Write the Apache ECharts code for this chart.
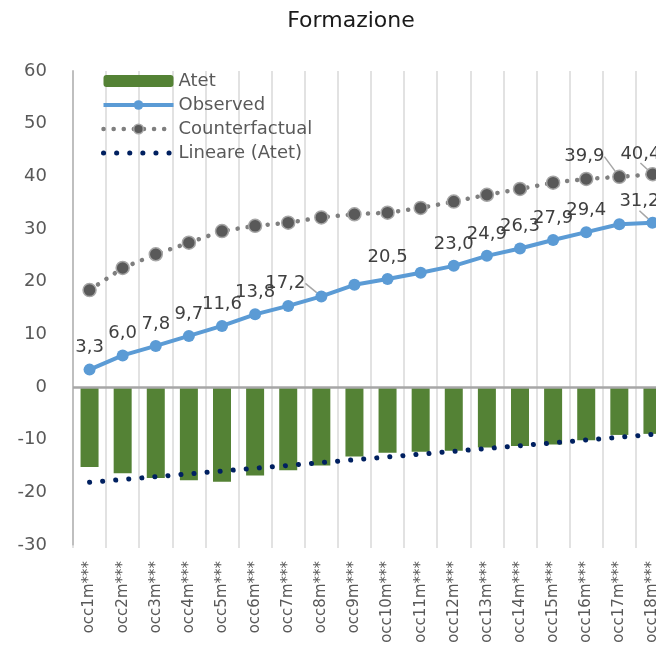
<!DOCTYPE html>
<html>
<head>
<meta charset="utf-8">
<script src="https://cdn.jsdelivr.net/npm/echarts@6/dist/echarts.min.js"></script>
<style>
  html, body { margin: 0; padding: 0; background: #fff; }
  #chart { width: 656px; height: 646px; }
</style>
</head>
<body>
<div id="chart"></div>
<script>
// valori
var categories = ['occ1m***', 'occ2m***', 'occ3m***', 'occ4m***', 'occ5m***', 'occ6m***',
  'occ7m***', 'occ8m***', 'occ9m***', 'occ10m***', 'occ11m***', 'occ12m***',
  'occ13m***', 'occ14m***', 'occ15m***', 'occ16m***', 'occ17m***', 'occ18m***'];
var atet = [-15.2, -16.4, -17.3, -17.7, -18.0, -16.8, -15.8, -14.9, -13.2,
  -12.5, -12.3, -12.1, -11.5, -11.2, -10.9, -10.1, -9.1, -8.9];
var observed = [3.3, 6.0, 7.8, 9.7, 11.6, 13.8, 15.4, 17.2, 19.4,
  20.5, 21.7, 23.0, 24.9, 26.3, 27.9, 29.4, 30.9, 31.2];
var counterfactual = [18.4, 22.6, 25.2, 27.4, 29.6, 30.6, 31.2, 32.2, 32.8,
  33.1, 34.0, 35.2, 36.5, 37.6, 38.8, 39.5, 39.9, 40.4];
var trendEnds = [-18.1, -9.0]; // linea di tendenza (Atet), primo e ultimo punto
var yTicks = { min: -30, max: 60, step: 10 };

// quali punti hanno l'etichetta
var obsLabelled = [0, 1, 2, 3, 4, 5, 7, 9, 11, 12, 13, 14, 15, 17];
var cfLabelled = [16, 17];

// etichette spostate a mano (dx, dy)
var obsMoved = { 7: [-36, 9], 17: [-13, 1] };
var cfMoved = { 16: [-35, 3], 17: [-12, 3] };

var cfLine = { color: '#7f7f7f', width: 4.5, type: [0.1, 10], cap: 'round' };
var cfItem = { color: '#595959', borderColor: '#a6a6a6', borderWidth: 1.5 };
var trendLine = { color: '#002060', width: 5, type: [0.1, 13], cap: 'round' };

function fmt(v) {
  return v.toFixed(1).replace('.', ',');
}

function withLabels(values, labelled, moved) {
  return values.map(function (v, i) {
    var item = { value: v };
    if (labelled.indexOf(i) >= 0) {
      item.label = { show: true };
      if (moved[i]) {
        item.labelLine = { show: true };
      }
    }
    return item;
  });
}

function layoutFor(moved) {
  return function (params) {
    var m = moved[params.dataIndex];
    if (m) return { dx: m[0], dy: m[1] };
    return {};
  };
}

var labelStyle = {
  show: false,
  position: 'top',
  distance: 7,
  fontSize: 18,
  color: '#404040',
  formatter: function (p) { return fmt(p.value); }
};

var myChart = echarts.init(document.getElementById('chart'));

var option = {
  animation: false,
  textStyle: { fontFamily: 'DejaVu Sans' },
  title: {
    text: 'Formazione',
    left: 346,
    textAlign: 'center',
    top: 5,
    textStyle: { fontSize: 22, fontWeight: 'normal', color: '#1a1a1a' }
  },
  legend: {
    data: [
      { name: 'Atet' },
      { name: 'Observed', lineStyle: { color: '#5b9bd5', width: 4 } },
      { name: 'Counterfactual', lineStyle: cfLine, itemStyle: cfItem },
      {
        name: 'Lineare (Atet)',
        lineStyle: trendLine,
        itemStyle: { color: 'rgba(0,0,0,0)', borderColor: 'rgba(0,0,0,0)', borderWidth: 0 }
      }
    ],
    orient: 'vertical',
    left: 101,
    top: 72,
    padding: 0,
    itemWidth: 70,
    itemHeight: 12,
    itemGap: 6,
    textStyle: { fontSize: 18, color: '#595959', lineHeight: 18 }
  },
  grid: { left: 73, top: 71, width: 596, height: 474, outerBoundsMode: 'none' },
  xAxis: {
    type: 'category',
    data: categories,
    boundaryGap: true,
    axisLine: { show: false, onZero: false },
    axisTick: { show: true, length: 3, lineStyle: { color: '#d9d9d9', width: 1.5 } },
    splitLine: { show: true, lineStyle: { color: '#d9d9d9', width: 1.5 } },
    axisLabel: { rotate: 90, fontSize: 15, color: '#595959', margin: 16, interval: 0 }
  },
  yAxis: {
    type: 'value',
    min: yTicks.min,
    max: yTicks.max,
    interval: yTicks.step,
    axisLine: { show: true, lineStyle: { color: '#bfbfbf', width: 2 } },
    axisTick: { show: false },
    splitLine: { show: false },
    axisLabel: { fontSize: 18, color: '#595959', margin: 26 }
  },
  series: [
    {
      name: 'Atet',
      type: 'bar',
      data: atet,
      barWidth: 18,
      itemStyle: { color: '#548235' },
      markLine: {
        silent: true,
        symbol: ['none', 'none'],
        label: { show: false },
        lineStyle: { color: '#a6a6a6', width: 2.5, type: 'solid' },
        data: [{ yAxis: 0 }]
      }
    },
    {
      name: 'Lineare (Atet)',
      type: 'line',
      data: [[0, trendEnds[0]], [categories.length - 1, trendEnds[1]]],
      symbol: 'none',
      lineStyle: trendLine,
      itemStyle: { color: '#002060' }
    },
    {
      name: 'Counterfactual',
      type: 'line',
      data: withLabels(counterfactual, cfLabelled, cfMoved),
      symbol: 'circle',
      symbolSize: 13,
      lineStyle: cfLine,
      itemStyle: cfItem,
      label: labelStyle,
      labelLine: { lineStyle: { color: '#a6a6a6', width: 1.5 } },
      labelLayout: layoutFor(cfMoved)
    },
    {
      name: 'Observed',
      type: 'line',
      data: withLabels(observed, obsLabelled, obsMoved),
      symbol: 'circle',
      symbolSize: 12,
      lineStyle: { color: '#5b9bd5', width: 4 },
      itemStyle: { color: '#5b9bd5' },
      label: labelStyle,
      labelLine: { lineStyle: { color: '#a6a6a6', width: 1.5 } },
      labelLayout: layoutFor(obsMoved)
    }
  ]
};

myChart.setOption(option);
</script>
</body>
</html>
